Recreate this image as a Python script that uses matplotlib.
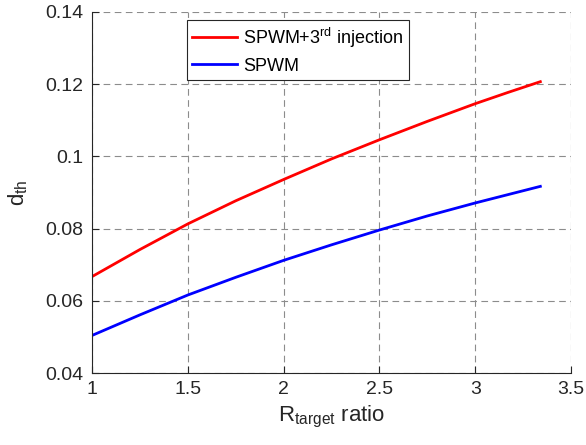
import matplotlib

matplotlib.use("Agg")

import matplotlib.pyplot as plt

# values
r_target = [1.0, 1.25, 1.5, 1.75, 2.0, 2.25, 2.5, 2.75, 3.0, 3.17, 3.34]
d_th_3rd = [0.0667, 0.0742, 0.0813, 0.0877, 0.0936, 0.0993, 0.1046, 0.1097, 0.1146, 0.1177, 0.1207]
d_th_spwm = [0.0504, 0.0561, 0.0616, 0.0665, 0.0712, 0.0755, 0.0796, 0.0835, 0.0871, 0.0894, 0.0917]

x_ticks = [1, 1.5, 2, 2.5, 3, 3.5]
y_ticks = [0.04, 0.06, 0.08, 0.1, 0.12, 0.14]
y_labels = ["0.04", "0.06", "0.08", "0.1", "0.12", "0.14"]

plt.rcParams["font.family"] = ["Liberation Sans", "DejaVu Sans"]
plt.rcParams["mathtext.fontset"] = "custom"
plt.rcParams["mathtext.rm"] = "Liberation Sans"
plt.rcParams["mathtext.it"] = "Liberation Sans"

dark = "#262626"

fig = plt.figure(figsize=(5.86, 4.45), dpi=100)
ax = fig.add_axes([92 / 586, 1 - 373 / 445, (571 - 92) / 586, (373 - 12) / 445])

ax.plot(r_target, d_th_3rd, color="red", lw=2, label="SPWM+3$^{\\mathrm{rd}}$ injection")
ax.plot(r_target, d_th_spwm, color="blue", lw=2, label="SPWM")

ax.set_xlim(1, 3.5)
ax.set_ylim(0.04, 0.14)
ax.set_xticks(x_ticks)
ax.set_xticklabels([f"{t:g}" for t in x_ticks])
ax.set_yticks(y_ticks)
ax.set_yticklabels(y_labels)

ax.grid(True, color="#8c8c8c", ls=(0, (6, 4)), lw=0.8)
ax.spines["top"].set_visible(False)
ax.spines["right"].set_visible(False)
for s in ("left", "bottom"):
    ax.spines[s].set_color(dark)
ax.tick_params(direction="in", length=5, labelsize=14, colors=dark, pad=6)

ax.set_xlabel("R$_{\\mathrm{target}}$ ratio", fontsize=16, color=dark)
ax.set_ylabel("d$_{\\mathrm{th}}$", fontsize=16, color=dark, labelpad=11)

leg = ax.legend(loc="upper left", bbox_to_anchor=((187 - 92) / 479, (373 - 20) / 361),
                borderaxespad=0, fontsize=13, fancybox=False, framealpha=1,
                edgecolor=dark, handlelength=2.45, borderpad=0.3,
                labelspacing=0.45, handletextpad=0.35)
leg.get_frame().set_linewidth(0.8)

fig.savefig("out.png", dpi=100)
